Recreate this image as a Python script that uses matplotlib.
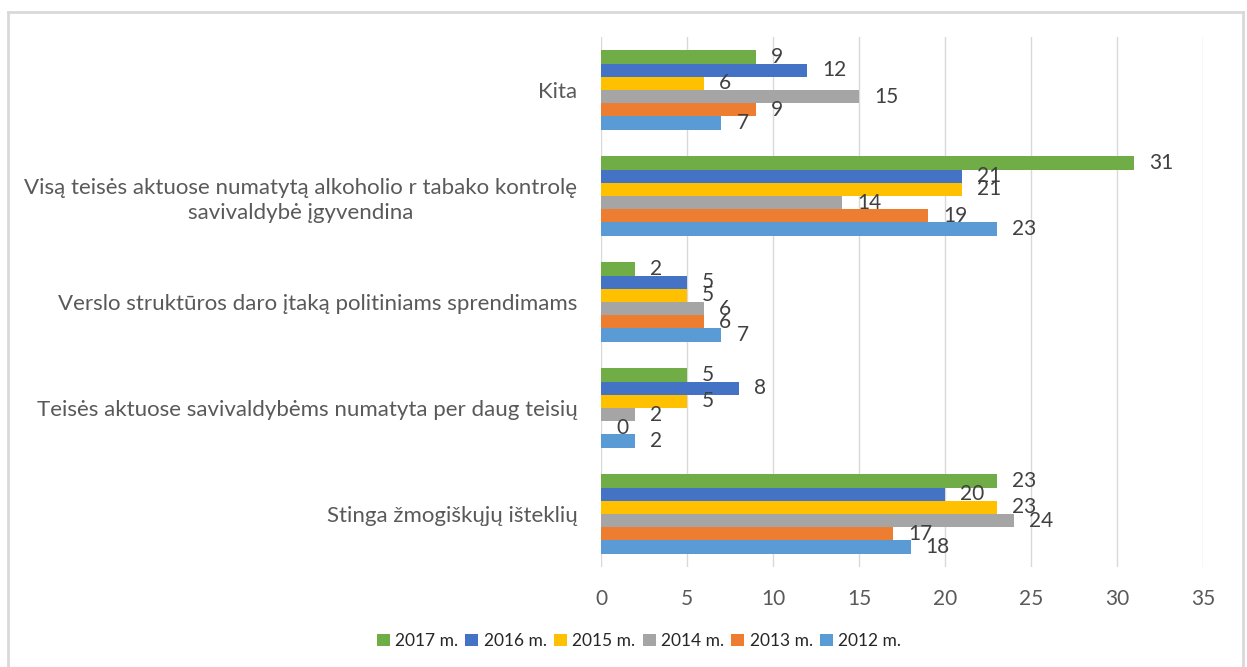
import matplotlib
matplotlib.use("Agg")
import matplotlib.pyplot as plt
from matplotlib.patches import Patch
from matplotlib.lines import Line2D
import numpy as np

plt.rcParams['font.family'] = ['Lato', 'DejaVu Sans']

categories = [
    "Stinga žmogiškųjų išteklių",
    "Teisės aktuose savivaldybėms numatyta per daug teisių",
    "Verslo struktūros daro įtaką politiniams sprendimams",
    "Visą teisės aktuose numatytą alkoholio r tabako kontrolę\nsavivaldybė įgyvendina",
    "Kita",
]
series_names = ["2012 m.", "2013 m.", "2014 m.", "2015 m.", "2016 m.", "2017 m."]
v2012 = [18, 2, 7, 23, 7]
v2013 = [17, 0, 6, 19, 9]
v2014 = [24, 2, 6, 14, 15]
v2015 = [23, 5, 5, 21, 6]
v2016 = [20, 8, 5, 21, 12]
v2017 = [23, 5, 2, 31, 9]
series_values = [v2012, v2013, v2014, v2015, v2016, v2017]
colors = ["#5B9BD5", "#ED7D31", "#A5A5A5", "#FFC000", "#4472C4", "#70AD47"]
xticks = [0, 5, 10, 15, 20, 25, 30, 35]

W, H = 1247, 667
fig = plt.figure(figsize=(W / 100, H / 100), dpi=100)
ax = fig.add_axes([601 / W, (H - 567) / H, (1203 - 601) / W, (567 - 37) / H])

y = np.arange(len(categories))
h = 0.1245
n = len(series_names)
for j, (name, vals, c) in enumerate(zip(series_names, series_values, colors)):
    pos = y + (j - (n - 1) / 2) * h
    ax.barh(pos, vals, height=h, color=c, label=name, zorder=3)
    for p, v in zip(pos, vals):
        ax.annotate(str(v), xy=(v, p), xytext=(15, 0), textcoords="offset pixels",
                    ha="left", va="center", fontsize=15, color="#404040", zorder=4)

ax.set_xlim(0, 35)
ax.set_ylim(-0.5, len(categories) - 0.5)
ax.set_xticks(xticks)
ax.set_xticklabels([str(t) for t in xticks])
ax.set_yticks(y)
ax.set_yticklabels(categories)
for lab in ax.get_yticklabels():
    lab.set_multialignment("center")
    lab.set_linespacing(1.3)
ax.tick_params(axis="x", length=0, pad=16, labelsize=15, labelcolor="#595959")
ax.tick_params(axis="y", length=0, pad=17, labelsize=16, labelcolor="#595959")
ax.grid(axis="x", color="#d9d9d9", linewidth=1, zorder=0)
ax.set_axisbelow(True)
for s in ax.spines.values():
    s.set_visible(False)

# legend
handles = [Patch(facecolor=colors[k], edgecolor="none", label=series_names[k]) for k in range(n - 1, -1, -1)]
fig.legend(handles=handles, loc="center", bbox_to_anchor=(639 / W, (H - 641) / H), ncol=6,
           frameon=False, fontsize=12.5, handlelength=0.75, handleheight=0.75,
           handletextpad=0.3, columnspacing=0.42, labelcolor="#262626")

# outer frame
fc = "#d9d9d9"
fig.add_artist(Line2D([8 / W, 8 / W], [0, (H - 12) / H], color=fc, lw=2, transform=fig.transFigure))
fig.add_artist(Line2D([8 / W, 1243 / W], [(H - 12) / H, (H - 12) / H], color=fc, lw=2, transform=fig.transFigure))
fig.add_artist(Line2D([1243 / W, 1243 / W], [0, (H - 12) / H], color=fc, lw=2, transform=fig.transFigure))

fig.savefig("out.png", dpi=100)
